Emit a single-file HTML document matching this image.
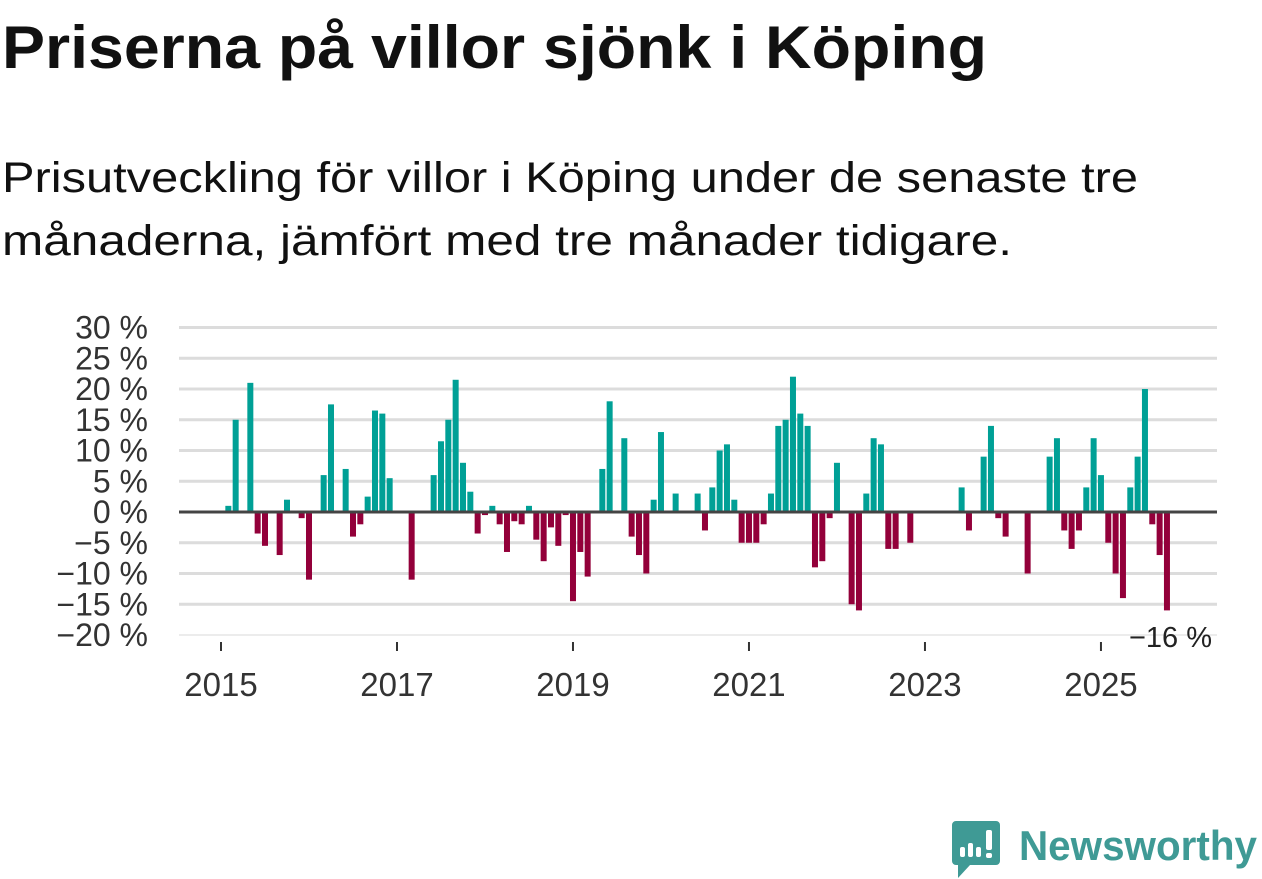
<!DOCTYPE html>
<html><head><meta charset="utf-8"><style>
body{margin:0;background:#fff;width:1262px;height:879px;overflow:hidden}
svg{display:block;font-family:"Liberation Sans",sans-serif}
</style></head><body>
<svg id="chart" width="1262" height="879">
<text x="2" y="68" font-size="60" font-weight="bold" fill="#111" textLength="985" lengthAdjust="spacingAndGlyphs">Priserna på villor sjönk i Köping</text>
<text x="2" y="192" font-size="43" fill="#111" textLength="1136" lengthAdjust="spacingAndGlyphs">Prisutveckling för villor i Köping under de senaste tre</text>
<text x="2" y="255" font-size="43" fill="#111" textLength="1010" lengthAdjust="spacingAndGlyphs">månaderna, jämfört med tre månader tidigare.</text>
<g id="grid"></g><g id="bars"></g><g id="axes"></g>
<g>
<path d="M956 821 h40 a4 4 0 0 1 4 4 v36 a4 4 0 0 1 -4 4 h-26 l-12 13 v-13 h-2 a4 4 0 0 1 -4 -4 v-36 a4 4 0 0 1 4 -4z" fill="#3f9a95"/>
<rect x="960" y="847" width="5" height="10" rx="2" fill="#fff"/><rect x="968" y="843" width="5" height="14" rx="2" fill="#fff"/><rect x="976" y="847" width="5" height="10" rx="2" fill="#fff"/><rect x="986" y="830" width="6" height="20" rx="2" fill="#fff"/><rect x="986" y="853" width="6" height="5" rx="2" fill="#fff"/>
<text x="1019" y="860" font-size="42" font-weight="bold" fill="#3f9a95" textLength="238" lengthAdjust="spacingAndGlyphs">Newsworthy</text>
</g>
</svg>
<script>
const values = [0,1,15,0,21,-3.5,-5.5,0,-7,2,0,-1,-11,0,6,17.5,0,7,-4,-2,2.5,16.5,16,5.5,0,0,-11,0,0,6,11.5,15,21.5,8,3.3,-3.5,-0.5,1,-2,-6.5,-1.5,-2,1,-4.5,-8,-2.5,-5.5,-0.5,-14.5,-6.5,-10.5,0,7,18,0,12,-4,-7,-10,2,13,0,3,0,0,3,-3,4,10,11,2,-5,-5,-5,-2,3,14,15,22,16,14,-9,-8,-1,8,0,-15,-16,3,12,11,-6,-6,0,-5,0,0,0,0,0,0,4,-3,0,9,14,-1,-4,0,0,-10,0,0,9,12,-3,-6,-3,4,12,6,-5,-10,-14,4,9,20,-2,-7,-16];
const yTicks = [30,25,20,15,10,5,0,-5,-10,-15,-20];
const yTickLabels = ["30 %","25 %","20 %","15 %","10 %","5 %","0 %","−5 %","−10 %","−15 %","−20 %"];
const xTickYears = [2015,2017,2019,2021,2023,2025];
const lastLabel = "−16 %";
const NS="http://www.w3.org/2000/svg";
const y = v => 512 - v*6.15;
const x = m => 221 + m*7.333;
function mk(tag, attrs, parent){const e=document.createElementNS(NS,tag);for(const k in attrs)e.setAttribute(k,attrs[k]);parent.appendChild(e);return e;}
const grid=document.getElementById('grid'),bars=document.getElementById('bars'),axes=document.getElementById('axes');
yTicks.forEach((t,i)=>{
  if(t!==0){const l=mk('line',{x1:179,x2:1217,y1:y(t),y2:y(t),stroke:t===-20?'#e6e6e6':'#dcdcdc','stroke-width':t===-20?1.5:3},grid);
  
  }
  const tx=mk('text',{x:148,y:y(t)+11,'font-size':32,fill:'#333','text-anchor':'end'},axes);
  tx.textContent=yTickLabels[i];
  
  
});
values.forEach((v,m)=>{
  if(v===0)return;
  const r=mk('rect',{x:x(m)-3,width:6,y:v>0?y(v):y(0),height:Math.abs(v)*6.15,fill:v>0?'#00a096':'#93003a'},bars);
  
  
});
const z=mk('line',{x1:179,x2:1217,y1:y(0),y2:y(0),stroke:'#444','stroke-width':3},axes);


xTickYears.forEach(yr=>{
  const px=x((yr-2015)*12);
  const t=mk('line',{x1:px,x2:px,y1:642,y2:651,stroke:'#333','stroke-width':2},axes);
  
  
  const tx=mk('text',{x:px,y:696,'font-size':33,fill:'#333','text-anchor':'middle'},axes);
  tx.textContent=yr;
  
  
});
const ll=mk('text',{x:1212,y:647,'font-size':29,fill:'#222','text-anchor':'end'},axes);
ll.textContent=lastLabel;


</script>
</body></html>
